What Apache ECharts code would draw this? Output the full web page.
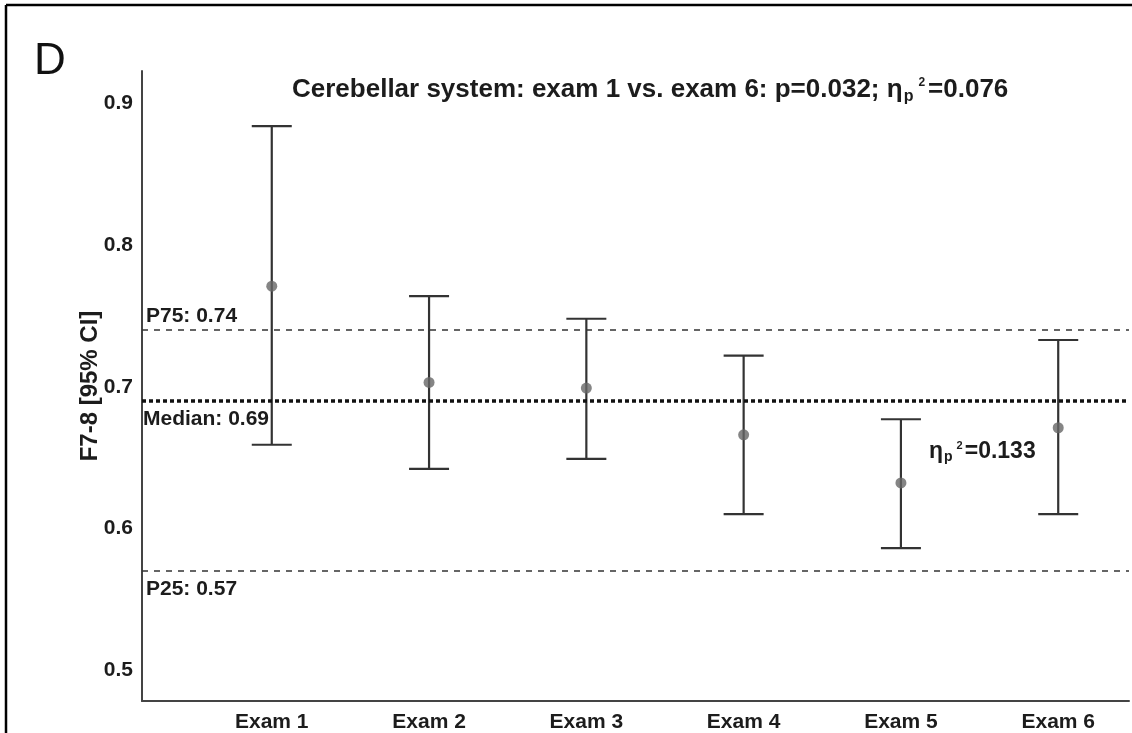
<!DOCTYPE html>
<html>
<head>
<meta charset="utf-8">
<script src="https://cdn.jsdelivr.net/npm/echarts@6/dist/echarts.min.js"></script>
<style>
  html, body { margin: 0; padding: 0; background: #fff; }
  #chart { width: 1132px; height: 733px; }
</style>
</head>
<body>
<div id="chart"></div>
<script>
// Exam labels and per-exam mean with 95% confidence interval
const exams = ['Exam 1', 'Exam 2', 'Exam 3', 'Exam 4', 'Exam 5', 'Exam 6'];
const meanVals = [0.771, 0.703, 0.699, 0.666, 0.632, 0.671];
const ciLow = [0.659, 0.642, 0.649, 0.610, 0.586, 0.610];
const ciHigh = [0.884, 0.764, 0.748, 0.722, 0.677, 0.733];

// Reference lines (percentiles of the whole sample)
const p75Val = 0.74;
const medianVal = 0.69;
const p25Val = 0.57;

// Y tick labels shown on the axis
const yTickLabels = [0.5, 0.6, 0.7, 0.8, 0.9];

const FONT = "'Liberation Sans', Arial, Helvetica, sans-serif";
const INK = '#1c1c1c';

const chart = echarts.init(document.getElementById('chart'), null, { renderer: 'canvas' });

const errorData = exams.map((e, i) => [i + 1, ciLow[i], ciHigh[i]]);
const meanData = exams.map((e, i) => [i + 1, meanVals[i]]);

function isTick(v, list) {
  return list.some(t => Math.abs(t - v) < 1e-6);
}

const option = {
  animation: false,
  backgroundColor: '#fff',
  title: {
    left: 287,
    top: 70,
    text: 'Cerebellar system: exam 1 vs. exam 6: p=0.032; η{sub|p}{sup|2}=0.076',
    textStyle: {
      fontFamily: FONT,
      fontSize: 26,
      fontWeight: 'bold',
      color: INK,
      rich: {
        sub: { fontFamily: FONT, fontSize: 16, fontWeight: 'bold', color: INK, padding: [14, 5, 0, 1] },
        sup: { fontFamily: FONT, fontSize: 12, fontWeight: 'bold', color: INK, padding: [0, 3, 14, 0] }
      }
    }
  },
  grid: { left: 142, right: 0, top: 71, bottom: 28, containLabel: false },
  xAxis: {
    type: 'value',
    min: 0.175,
    max: 6.45,
    interval: 0.025,
    splitLine: { show: false },
    axisTick: { show: false },
    axisLine: { show: true, lineStyle: { color: '#444', width: 2 } },
    axisLabel: {
      margin: 11,
      fontFamily: FONT,
      fontSize: 21,
      fontWeight: 'bold',
      color: INK,
      showMinLabel: true,
      showMaxLabel: true,
      formatter: v => {
        const k = Math.round(v);
        return (Math.abs(v - k) < 1e-6 && k >= 1 && k <= exams.length) ? exams[k - 1] : '';
      }
    }
  },
  yAxis: {
    type: 'value',
    min: 0.478,
    max: 0.923,
    interval: 0.002,
    name: 'F7-8 [95% CI]',
    nameLocation: 'middle',
    nameGap: 40,
    nameMoveOverlap: false,
    nameTextStyle: { fontFamily: FONT, fontSize: 24, fontWeight: 'bold', color: INK },
    splitLine: { show: false },
    axisTick: { show: false },
    axisLine: { show: true, lineStyle: { color: '#444', width: 2 } },
    axisLabel: {
      margin: 9,
      fontFamily: FONT,
      fontSize: 21,
      fontWeight: 'bold',
      color: INK,
      formatter: v => isTick(v, yTickLabels) ? v.toFixed(1) : ''
    }
  },
  series: [
    {
      name: 'CI',
      type: 'custom',
      data: errorData,
      z: 3,
      renderItem: (params, api) => {
        const x = api.value(0);
        const lo = api.coord([x, api.value(1)]);
        const hi = api.coord([x, api.value(2)]);
        const hw = 20;
        const style = { stroke: '#333', lineWidth: 2.2 };
        return {
          type: 'group',
          children: [
            { type: 'line', shape: { x1: lo[0], y1: lo[1], x2: hi[0], y2: hi[1] }, style },
            { type: 'line', shape: { x1: hi[0] - hw, y1: hi[1], x2: hi[0] + hw, y2: hi[1] }, style },
            { type: 'line', shape: { x1: lo[0] - hw, y1: lo[1], x2: lo[0] + hw, y2: lo[1] }, style }
          ]
        };
      }
    },
    {
      name: 'Mean',
      type: 'scatter',
      data: meanData,
      symbol: 'circle',
      symbolSize: 11,
      z: 4,
      itemStyle: { color: '#666' },
      markLine: {
        silent: true,
        symbol: 'none',
        animation: false,
        data: [
          {
            yAxis: p75Val,
            lineStyle: { type: [6, 6], color: '#333', width: 1.6 },
            label: {
              show: true, position: 'insideStartTop', distance: [4, 3],
              formatter: 'P75: ' + p75Val.toFixed(2),
              fontFamily: FONT, fontSize: 21, fontWeight: 'bold', color: INK
            }
          },
          {
            yAxis: medianVal,
            lineStyle: { type: [4, 3], color: '#111', width: 3.5 },
            label: {
              show: true, position: 'insideStartBottom', distance: [1, 8],
              formatter: 'Median: ' + medianVal.toFixed(2),
              fontFamily: FONT, fontSize: 21, fontWeight: 'bold', color: INK
            }
          },
          {
            yAxis: p25Val,
            lineStyle: { type: [6, 6], color: '#333', width: 1.6 },
            label: {
              show: true, position: 'insideStartBottom', distance: [4, 8],
              formatter: 'P25: ' + p25Val.toFixed(2),
              fontFamily: FONT, fontSize: 21, fontWeight: 'bold', color: INK
            }
          }
        ]
      }
    }
  ],
  graphic: [
    // panel frame (top and left edges)
    { type: 'line', shape: { x1: 6, y1: 5, x2: 1132, y2: 5 }, style: { stroke: '#000', lineWidth: 2.5 }, silent: true },
    { type: 'line', shape: { x1: 6, y1: 5, x2: 6, y2: 733 }, style: { stroke: '#000', lineWidth: 2.5 }, silent: true },
    // panel letter
    {
      type: 'text', left: 34, top: 40,
      style: { text: 'D', fontFamily: FONT, fontSize: 44, fill: '#111' }
    },
    // effect size annotation next to exam 5
    {
      type: 'text', left: 929, top: 440,
      style: {
        text: 'η{sub|p}{sup|2}=0.133',
        fontFamily: FONT, fontSize: 23, fontWeight: 'bold', fill: INK,
        rich: {
          sub: { fontFamily: FONT, fontSize: 14, fontWeight: 'bold', fill: INK, padding: [11, 4, 0, 1] },
          sup: { fontFamily: FONT, fontSize: 11, fontWeight: 'bold', fill: INK, padding: [0, 2, 13, 0] }
        }
      }
    }
  ]
};

chart.setOption(option);
</script>
</body>
</html>
